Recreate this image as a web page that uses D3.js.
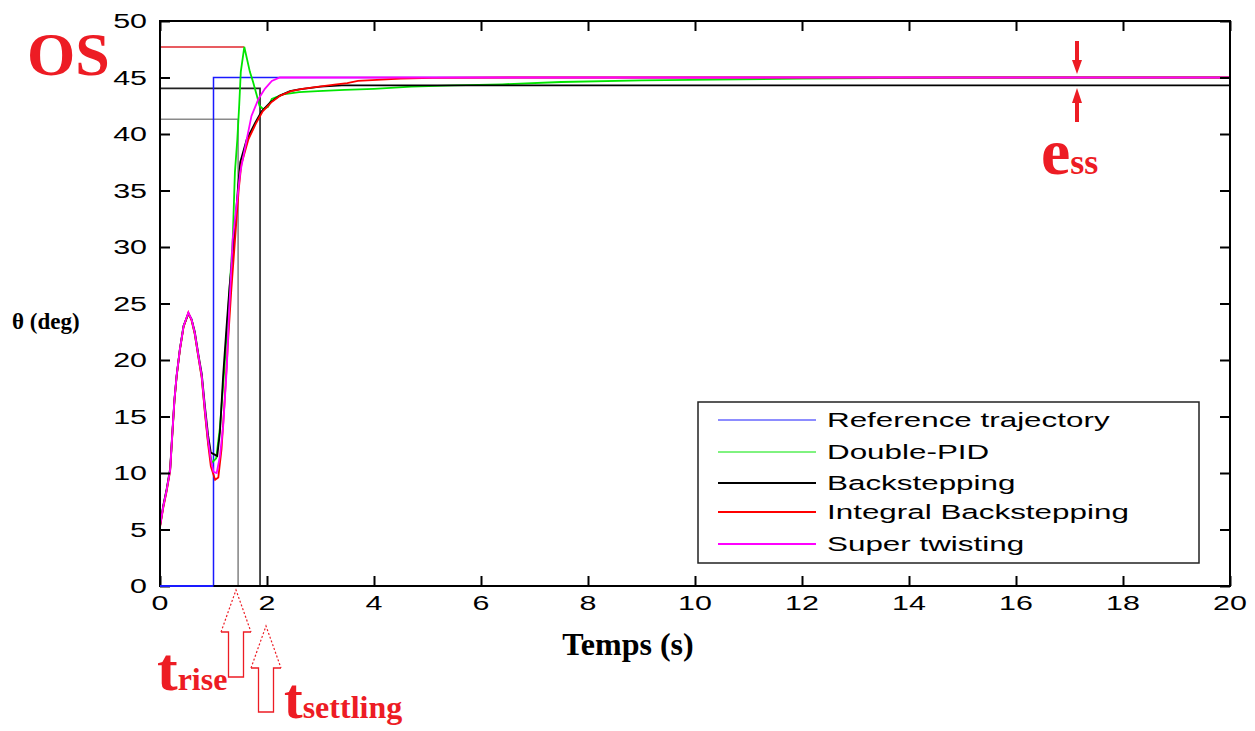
<!DOCTYPE html>
<html>
<head>
<meta charset="utf-8">
<script src="https://cdn.jsdelivr.net/npm/d3@7"></script>
<style>
  body { margin: 0; background: #fff; }
  svg { display: block; }
</style>
</head>
<body>
<div id="chart"></div>
<script>
// tick labels
const xTicks = [0, 2, 4, 6, 8, 10, 12, 14, 16, 18, 20];
const yTicks = [0, 5, 10, 15, 20, 25, 30, 35, 40, 45, 50];

// series (time in s, angle in deg)
const refT = [0, 1, 1, 20];
const refV = [0, 0, 45, 45];

const pidT = [0, 0.06, 0.125, 0.19, 0.22, 0.27, 0.31, 0.37, 0.44, 0.53, 0.59, 0.65, 0.72, 0.78, 0.84, 0.90, 0.97, 1.05, 1.12, 1.2, 1.27, 1.36, 1.40, 1.445, 1.48, 1.51, 1.576, 1.68, 1.74, 1.81, 1.86, 1.93, 2.02, 2.09, 2.3, 2.6, 2.95, 3.45, 4.0, 4.7, 5.5, 6.4, 7.5, 9.0, 12.0, 15.0, 20];
const pidV = [5.3, 7.0, 8.5, 10.3, 12.6, 16.4, 18.5, 20.9, 23.0, 24.1, 23.6, 22.3, 20.2, 18.5, 15.4, 12.7, 10.9, 11.3, 14.0, 19.0, 24.0, 30.7, 36.6, 39.5, 42.5, 45.5, 47.7, 45.5, 44.6, 43.4, 42.5, 42.2, 42.4, 43.1, 43.5, 43.7, 43.8, 43.9, 44.0, 44.2, 44.3, 44.4, 44.6, 44.75, 44.9, 45, 45];

const bsT = [0, 0.06, 0.125, 0.19, 0.22, 0.27, 0.31, 0.37, 0.44, 0.53, 0.59, 0.65, 0.72, 0.78, 0.84, 0.90, 0.95, 1.03, 1.07, 1.12, 1.18, 1.24, 1.3, 1.38, 1.46, 1.5, 1.62, 1.78, 1.9, 2.06, 2.24, 2.43, 2.6, 3.0, 3.4, 20];
const bsV = [5.3, 7.1, 8.6, 10.4, 12.8, 16.5, 18.6, 20.9, 23.0, 24.1, 23.6, 22.5, 20.4, 18.8, 15.9, 13.3, 11.8, 11.6, 11.5, 13.6, 18.6, 22.7, 26.5, 30.5, 35.4, 37.5, 39.5, 41.0, 42.0, 42.8, 43.4, 43.8, 43.95, 44.2, 44.3, 44.3];

const ibsT = [0, 0.06, 0.125, 0.19, 0.22, 0.27, 0.31, 0.37, 0.44, 0.53, 0.59, 0.65, 0.72, 0.78, 0.84, 0.90, 0.95, 1.03, 1.09, 1.15, 1.21, 1.27, 1.33, 1.4, 1.47, 1.52, 1.65, 1.8, 1.92, 2.08, 2.25, 2.45, 2.66, 2.9, 3.3, 3.5, 3.7, 4.5, 5.1, 6.6, 20];
const ibsV = [5.2, 6.9, 8.4, 10.2, 12.6, 16.4, 18.5, 20.8, 22.9, 24.2, 23.5, 22.3, 20.2, 18.4, 15.3, 12.5, 10.6, 9.4, 9.6, 12.1, 16.5, 21.5, 26.0, 30.5, 35.0, 37.3, 39.5, 41.0, 42.0, 42.8, 43.4, 43.8, 44.0, 44.15, 44.4, 44.5, 44.7, 44.9, 44.97, 45, 45];

const stT = [0, 0.06, 0.125, 0.19, 0.22, 0.27, 0.31, 0.37, 0.44, 0.53, 0.59, 0.65, 0.72, 0.78, 0.84, 0.90, 0.95, 1.0, 1.06, 1.12, 1.18, 1.25, 1.29, 1.36, 1.5, 1.62, 1.71, 1.84, 1.96, 2.09, 2.24, 20];
const stV = [5.3, 7.0, 8.5, 10.3, 12.7, 16.5, 18.6, 20.9, 23.0, 24.2, 23.6, 22.4, 20.3, 18.6, 15.6, 12.9, 11.2, 10.1, 10.0, 11.5, 14.1, 19.4, 24.2, 30.7, 36.6, 39.5, 41.6, 43.1, 44.0, 44.7, 45.0, 45.0];

const seriesNames = ['Reference trajectory', 'Double-PID', 'Backstepping', 'Integral Backstepping', 'Super twisting'];

// annotation values: overshoot, rise and settling markers
const osValue = 47.7, osTime = 1.576;
const riseValue = 41.3, riseTime = 1.46;
const settleValue = 44.04, settleTime = 1.87;

const W = 1255, H = 731;
const plotL = 160, plotR = 1230, plotT = 21, plotB = 586;

const svg = d3.select('#chart')
  .append('svg')
  .attr('width', W)
  .attr('height', H);

svg.append('rect').attr('width', W).attr('height', H).attr('fill', '#fff');

const x = d3.scaleLinear().domain([0, 20]).range([plotL, plotR]);
const y = d3.scaleLinear().domain([0, 50]).range([plotB, plotT]);

const tickFont = 'Liberation Sans, Arial, sans-serif';
const serif = 'Liberation Serif, Times New Roman, serif';

// annotation guide lines (under the curves)
const guides = [
  { pts: [[0, osValue], [osTime, osValue]], color: '#e0262c', w: 1.3 },
  { pts: [[0, riseValue], [riseTime, riseValue], [riseTime, 0]], color: '#8a8a8a', w: 1.6 },
  { pts: [[0, settleValue], [settleTime, settleValue], [settleTime, 0]], color: '#222', w: 1.6 }
];
guides.forEach(g => {
  svg.append('path')
    .attr('d', d3.line().x(d => x(d[0])).y(d => y(d[1]))(g.pts))
    .attr('fill', 'none')
    .attr('stroke', g.color)
    .attr('stroke-width', g.w);
});

// curves, drawn in the original stacking order
const series = [
  { t: refT, v: refV, color: '#1a1aff', w: 1.5 },
  { t: pidT, v: pidV, color: '#00e600', w: 1.8 },
  { t: bsT, v: bsV, color: '#000', w: 1.8 },
  { t: ibsT, v: ibsV, color: '#ff0000', w: 1.8 },
  { t: stT, v: stV, color: '#ff00ff', w: 1.8 }
];

const line = d3.line().x(d => x(d[0])).y(d => y(d[1]));

series.forEach(s => {
  svg.append('path')
    .attr('d', line(s.t.map((t, i) => [t, s.v[i]])))
    .attr('fill', 'none')
    .attr('stroke', s.color)
    .attr('stroke-width', s.w)
    .attr('stroke-linejoin', 'miter');
});

// axis box with inward ticks on all four sides
svg.append('g')
  .attr('transform', `translate(0, ${plotB})`)
  .call(d3.axisTop(x).tickValues(xTicks).tickSize(10).tickFormat(''))
  .call(g => g.select('.domain').remove())
  .selectAll('line').attr('stroke', '#000').attr('stroke-width', 2);
svg.append('g')
  .attr('transform', `translate(0, ${plotT})`)
  .call(d3.axisBottom(x).tickValues(xTicks).tickSize(10).tickFormat(''))
  .call(g => g.select('.domain').remove())
  .selectAll('line').attr('stroke', '#000').attr('stroke-width', 2);
svg.append('g')
  .attr('transform', `translate(${plotL}, 0)`)
  .call(d3.axisRight(y).tickValues(yTicks).tickSize(10).tickFormat(''))
  .call(g => g.select('.domain').remove())
  .selectAll('line').attr('stroke', '#000').attr('stroke-width', 2);
svg.append('g')
  .attr('transform', `translate(${plotR}, 0)`)
  .call(d3.axisLeft(y).tickValues(yTicks).tickSize(10).tickFormat(''))
  .call(g => g.select('.domain').remove())
  .selectAll('line').attr('stroke', '#000').attr('stroke-width', 2);

svg.append('rect')
  .attr('x', plotL).attr('y', plotT)
  .attr('width', plotR - plotL).attr('height', plotB - plotT)
  .attr('fill', 'none')
  .attr('stroke', '#000')
  .attr('stroke-width', 2);

// blue reference segment sits over the x axis
svg.append('line')
  .attr('x1', x(refT[0])).attr('x2', x(refT[1]))
  .attr('y1', y(0)).attr('y2', y(0))
  .attr('stroke', '#1a1aff').attr('stroke-width', 2);

// tick labels (stretched like the original MATLAB export)
svg.selectAll('.xlab')
  .data(xTicks)
  .enter()
  .append('text')
  .attr('transform', d => `translate(${x(d)}, 610) scale(1.45, 1)`)
  .attr('text-anchor', 'middle')
  .style('font-family', tickFont)
  .style('font-size', '21px')
  .text(d => d);

svg.selectAll('.ylab')
  .data(yTicks)
  .enter()
  .append('text')
  .attr('transform', d => `translate(147, ${y(d) + 7}) scale(1.45, 1)`)
  .attr('text-anchor', 'end')
  .style('font-family', tickFont)
  .style('font-size', '21px')
  .text(d => d);

// axis titles
svg.append('text')
  .attr('x', 628).attr('y', 655)
  .attr('text-anchor', 'middle')
  .style('font-family', serif)
  .style('font-weight', 'bold')
  .style('font-size', '32px')
  .text('Temps (s)');

svg.append('text')
  .attr('x', 12).attr('y', 329)
  .style('font-family', serif)
  .style('font-weight', 'bold')
  .style('font-size', '23px')
  .text('θ (deg)');

// legend
const lg = svg.append('g');
lg.append('rect')
  .attr('x', 698).attr('y', 402)
  .attr('width', 501).attr('height', 161)
  .attr('fill', '#fff')
  .attr('stroke', '#222')
  .attr('stroke-width', 1.5);

const legendRows = [420, 452, 483, 512, 544];
const legendWidths = [1, 1, 2, 2, 2];
seriesNames.forEach((name, i) => {
  lg.append('line')
    .attr('x1', 718).attr('x2', 816)
    .attr('y1', legendRows[i]).attr('y2', legendRows[i])
    .attr('stroke', series[i].color)
    .attr('stroke-width', legendWidths[i]);
  lg.append('text')
    .attr('transform', `translate(827, ${legendRows[i] + 7}) scale(1.61, 1)`)
    .style('font-family', tickFont)
    .style('font-size', '19.5px')
    .text(name);
});

// red annotations
const red = '#ed1c24';

svg.append('text')
  .attr('x', 27).attr('y', 75)
  .style('font-family', serif)
  .style('font-weight', 'bold')
  .style('font-size', '62px')
  .attr('fill', red)
  .text('OS');

const ess = svg.append('text')
  .attr('x', 1041).attr('y', 174)
  .style('font-family', serif)
  .style('font-weight', 'bold')
  .attr('fill', red);
ess.append('tspan').style('font-size', '66px').text('e');
ess.append('tspan').style('font-size', '36px').text('ss');

const trise = svg.append('text')
  .attr('x', 157).attr('y', 690)
  .style('font-family', serif)
  .style('font-weight', 'bold')
  .attr('fill', red);
trise.append('tspan').style('font-size', '62px').text('t');
trise.append('tspan').style('font-size', '32px').text('rise');

const tset = svg.append('text')
  .attr('x', 284).attr('y', 718)
  .style('font-family', serif)
  .style('font-weight', 'bold')
  .attr('fill', red);
tset.append('tspan').style('font-size', '56px').text('t');
tset.append('tspan').style('font-size', '32px').text('settling');

// e_ss arrows pointing at the gap between 45 and the backstepping level
const essX = 1077;
svg.append('path')
  .attr('d', `M${essX - 2},41 L${essX + 2},41 L${essX + 2},60 L${essX + 5},60 L${essX},74 L${essX - 5},60 L${essX - 2},60 Z`)
  .attr('fill', red);
svg.append('path')
  .attr('d', `M${essX - 2},122 L${essX + 2},122 L${essX + 2},103 L${essX + 5},103 L${essX},88 L${essX - 5},103 L${essX - 2},103 Z`)
  .attr('fill', red);

// hollow arrows under the x axis
function hollowArrow(cx, tipY, headY, baseY, headHalf, shaftHalf) {
  svg.append('path')
    .attr('d', `M${cx - headHalf},${headY} L${cx},${tipY} L${cx + headHalf},${headY}`)
    .attr('fill', 'none')
    .attr('stroke', red)
    .attr('stroke-width', 1.2)
    .attr('stroke-dasharray', '2,2');
  svg.append('path')
    .attr('d', `M${cx - headHalf},${headY} L${cx - shaftHalf},${headY} L${cx - shaftHalf},${baseY} L${cx + shaftHalf},${baseY} L${cx + shaftHalf},${headY} L${cx + headHalf},${headY}`)
    .attr('fill', 'none')
    .attr('stroke', red)
    .attr('stroke-width', 1.3);
}
hollowArrow(236, 590, 632, 677, 15, 7.5);
hollowArrow(266, 626, 668, 712, 15, 7.5);
</script>
</body>
</html>
